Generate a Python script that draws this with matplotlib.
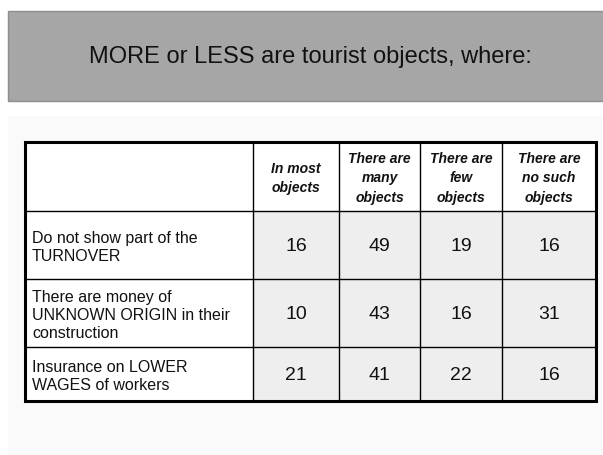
import matplotlib
matplotlib.use("Agg")
import matplotlib.pyplot as plt
from matplotlib.patches import Rectangle

plt.rcParams['font.family'] = ['Liberation Sans', 'DejaVu Sans']

title = "MORE or LESS are tourist objects, where:"

col_headers = ["In most\nobjects", "There are\nmany\nobjects", "There are\nfew\nobjects", "There are\nno such\nobjects"]
row_labels = ["Do not show part of the\nTURNOVER",
              "There are money of\nUNKNOWN ORIGIN in their\nconstruction",
              "Insurance on LOWER\nWAGES of workers"]

turnover = [16, 49, 19, 16]
unknown_origin = [10, 43, 16, 31]
lower_wages = [21, 41, 22, 16]
values = [turnover, unknown_origin, lower_wages]

# layout in pixels
W, H = 603, 456
col_edges = [25, 253, 339, 420, 502, 596]
row_edges = [143, 212, 280, 348, 402]

fig = plt.figure(figsize=(W / 100, H / 100), dpi=100)
ax = fig.add_axes([0, 0, 1, 1])
ax.set_xlim(0, W)
ax.set_ylim(H, 0)
ax.axis('off')

# banner
ax.add_patch(Rectangle((8, 12), W, 90, facecolor='#a6a6a6', edgecolor='#8e8e8e', lw=1))
ax.text(310, 57, title, fontsize=17, ha='center', va='center', color='#111111')

# light panel
ax.add_patch(Rectangle((8, 117), W, H, facecolor='#fafafa', edgecolor='none'))

# cells
for i in range(len(row_labels)):
    y0, y1 = row_edges[i + 1], row_edges[i + 2]
    ax.add_patch(Rectangle((col_edges[0], y0), col_edges[1] - col_edges[0], y1 - y0, facecolor='white', edgecolor='none'))
    ax.text(col_edges[0] + 7, (y0 + y1) / 2 + 2, row_labels[i], fontsize=11.5, ha='left', va='center',
            linespacing=1.25, color='#111111')
    for j, v in enumerate(values[i]):
        x0, x1 = col_edges[j + 1], col_edges[j + 2]
        ax.add_patch(Rectangle((x0, y0), x1 - x0, y1 - y0, facecolor='#eeeeee', edgecolor='none'))
        ax.text((x0 + x1) / 2, (y0 + y1) / 2 + 1, str(v), fontsize=14, ha='center', va='center', color='#111111')

ax.add_patch(Rectangle((col_edges[0], row_edges[0]), col_edges[-1] - col_edges[0], row_edges[1] - row_edges[0],
                       facecolor='white', edgecolor='none'))
for j, h in enumerate(col_headers):
    x0, x1 = col_edges[j + 1], col_edges[j + 2]
    ax.text((x0 + x1) / 2, (row_edges[0] + row_edges[1]) / 2 + 1, h, fontsize=10, ha='center', va='center',
            fontweight='bold', fontstyle='italic', linespacing=1.5, color='#111111')

# grid lines
for x in col_edges[1:-1]:
    ax.plot([x, x], [row_edges[0], row_edges[-1]], color='black', lw=1)
for y in row_edges[1:-1]:
    ax.plot([col_edges[0], col_edges[-1]], [y, y], color='black', lw=1)
ax.add_patch(Rectangle((col_edges[0], row_edges[0]), col_edges[-1] - col_edges[0], row_edges[-1] - row_edges[0],
                       facecolor='none', edgecolor='black', lw=2.2))

fig.savefig("out.png", dpi=100)
